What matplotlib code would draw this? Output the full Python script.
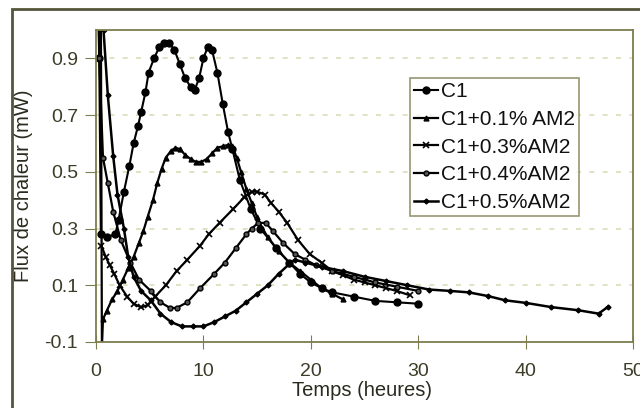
import matplotlib
matplotlib.use("Agg")
import matplotlib.pyplot as plt
from matplotlib.patches import Rectangle

plt.rcParams['font.family'] = ['Liberation Sans', 'DejaVu Sans']

# C1
c1_t = [0.25, 0.3, 0.45, 1.0, 1.8, 2.1, 2.6, 3.1, 3.5, 3.9, 4.2, 4.6, 4.9, 5.4, 5.9,
        6.3, 6.8, 7.3, 7.8, 8.3, 8.8, 9.2, 9.6, 10.0, 10.4, 10.8, 11.3, 11.8, 12.3,
        12.7, 13.4, 14.4, 15.3, 16.8, 18.0, 19.0, 20.0, 21.0, 22.0, 24.0, 26.0, 28.0, 30.0]
c1_q = [1.1, 0.9, 0.28, 0.27, 0.28, 0.33, 0.43, 0.52, 0.6, 0.66, 0.71, 0.78, 0.85, 0.9, 0.94,
        0.955, 0.955, 0.93, 0.88, 0.83, 0.8, 0.79, 0.83, 0.9, 0.94, 0.93, 0.85, 0.74, 0.64,
        0.58, 0.47, 0.37, 0.3, 0.23, 0.18, 0.14, 0.11, 0.09, 0.075, 0.06, 0.045, 0.04, 0.035]

# C1 + 0.1% AM2
a1_t = [0.45, 0.55, 0.65, 1.0, 1.5, 2.0, 2.5, 3.0, 3.5, 4.0, 4.4, 4.8, 5.3, 5.7, 6.1, 6.5,
        7.0, 7.4, 7.8, 8.3, 8.8, 9.3, 9.8, 10.3, 10.8, 11.3, 11.8, 12.3, 12.7, 13.1, 13.5,
        14.0, 14.5, 15.0, 15.5, 16.0, 17.0, 18.0, 19.0, 20.0, 21.0, 22.0, 23.0]
a1_q = [1.1, -0.12, -0.02, 0.01, 0.05, 0.08, 0.12, 0.16, 0.2, 0.25, 0.29, 0.34, 0.4, 0.46, 0.51, 0.55,
        0.575, 0.585, 0.58, 0.56, 0.545, 0.535, 0.535, 0.545, 0.565, 0.585, 0.59, 0.595, 0.59, 0.55, 0.5,
        0.44, 0.39, 0.34, 0.3, 0.27, 0.22, 0.18, 0.15, 0.12, 0.09, 0.07, 0.05]

# C1 + 0.3% AM2
a3_t = [0.5, 0.9, 1.3, 1.7, 2.2, 2.9, 3.5, 4.2, 4.8, 5.5, 6.5, 7.5, 8.5, 9.7, 10.5, 11.5,
        12.8, 13.8, 14.5, 15.0, 15.7, 16.3, 17.0, 17.8, 18.8, 19.9, 21.0, 22.0, 23.0, 24.0,
        25.0, 26.0, 27.0, 28.0, 29.2]
a3_q = [0.24, 0.2, 0.17, 0.14, 0.1, 0.06, 0.035, 0.022, 0.03, 0.06, 0.1, 0.15, 0.19, 0.24, 0.28, 0.32,
        0.37, 0.41, 0.43, 0.43, 0.42, 0.39, 0.36, 0.32, 0.26, 0.21, 0.18, 0.15, 0.135, 0.12,
        0.11, 0.1, 0.09, 0.08, 0.065]

# C1 + 0.4% AM2
a4_t = [0.2, 0.3, 0.65, 1.1, 1.6, 2.3, 3.2, 4.0, 5.1, 6.0, 6.9, 7.5, 8.5, 9.7, 11.0, 12.0,
        13.0, 14.0, 14.5, 15.1, 15.8, 16.5, 17.4, 18.5, 19.5, 20.5, 22.0, 24.0, 26.0, 28.0, 30.0]
a4_q = [1.1, 0.9, 0.55, 0.46, 0.36, 0.26, 0.18, 0.12, 0.08, 0.04, 0.02, 0.02, 0.04, 0.09, 0.14, 0.18,
        0.23, 0.28, 0.3, 0.32, 0.32, 0.29, 0.25, 0.21, 0.19, 0.17, 0.15, 0.13, 0.11, 0.095, 0.08]

# C1 + 0.5% AM2
a5_t = [0.6, 0.7, 1.1, 1.6, 2.0, 2.6, 3.0, 3.5, 4.2, 5.1, 6.0, 7.0, 8.0, 9.0, 10.0, 11.0,
        12.0, 13.0, 14.0, 15.0, 16.0, 17.0, 18.0, 18.5, 19.5, 21.0, 23.0, 25.0, 27.0, 29.0,
        31.0, 33.0, 34.7, 36.5, 38.1, 40.0, 42.4, 44.9, 46.8, 47.7]
a5_q = [1.1, 1.0, 0.77, 0.556, 0.42, 0.3, 0.2, 0.13, 0.08, 0.047, 0.0, -0.03, -0.045, -0.045, -0.045, -0.03,
        -0.01, 0.01, 0.04, 0.07, 0.1, 0.14, 0.175, 0.19, 0.18, 0.165, 0.15, 0.13, 0.115, 0.1,
        0.085, 0.08, 0.075, 0.062, 0.047, 0.038, 0.023, 0.012, 0.0, 0.025]

labels = ['C1', 'C1+0.1% AM2', 'C1+0.3%AM2', 'C1+0.4%AM2', 'C1+0.5%AM2']

olive = '#7d7d4e'
txt = '#3c3c28'
fig = plt.figure(figsize=(6.4, 4.08), dpi=100)
# outer frame (only top and left edges fall inside the image)
fig.patches.append(Rectangle((12 / 640, -0.1), 1.2, 1.1 - 9 / 408, transform=fig.transFigure,
                             fill=False, edgecolor='#55553c', linewidth=2))
ax = fig.add_axes([96 / 640, 66 / 408, 537 / 640, 312 / 408])

ax.plot(c1_t, c1_q, color='black', lw=1.5, marker='o', ms=5, label=labels[0])
ax.plot(a1_t, a1_q, color='black', lw=1.6, marker='^', ms=3.5, label=labels[1])
ax.plot(a3_t, a3_q, color='black', lw=1.6, marker='x', ms=4, mew=1.2, label=labels[2])
ax.plot(a4_t, a4_q, color='black', lw=1.6, marker='o', ms=3.5, mfc='#555555', label=labels[3])
ax.plot(a5_t, a5_q, color='black', lw=1.8, marker='D', ms=2.5, label=labels[4])

ax.set_xlim(0, 50)
ax.set_ylim(-0.1, 1.0)
ax.set_xticks([0, 10, 20, 30, 40, 50])
ax.set_yticks([-0.1, 0.1, 0.3, 0.5, 0.7, 0.9])
ax.set_yticklabels(['-0.1', '0.1', '0.3', '0.5', '0.7', '0.9'])
for y in [0.1, 0.3, 0.5, 0.7, 0.9]:
    ax.axhline(y, color='#dcdcb8', lw=1.2, ls=(0, (3, 5)), zorder=0)

for s in ax.spines.values():
    s.set_color(olive)
    s.set_linewidth(1.3)
ax.tick_params(axis='x', direction='inout', length=10, color=olive, labelsize=14,
               labelcolor=txt, pad=10)
ax.tick_params(axis='y', direction='out', length=8, color=olive, labelsize=14,
               labelcolor=txt, pad=5)
ax.set_xlabel('Temps (heures)', fontsize=14.5, color='#2a2a1e')
ax.xaxis.set_label_coords((362 - 96) / 537, -(381 - 342) / 312)
ax.set_ylabel('Flux de chaleur (mW)', fontsize=14.5, color='#2a2a1e')
ax.yaxis.set_label_coords((33 - 96) / 537, 0.5)

leg = ax.legend(loc='upper left', bbox_to_anchor=((410 - 96) / 537, (342 - 78) / 312),
                frameon=True, fancybox=False, fontsize=15, handlelength=1.15,
                handletextpad=0.15, borderpad=0.2, labelspacing=0.42, borderaxespad=0)
leg.get_frame().set_edgecolor(olive)
leg.get_frame().set_linewidth(1.2)
for t in leg.get_texts():
    t.set_color('#111111')

fig.savefig('out.png', dpi=100)
